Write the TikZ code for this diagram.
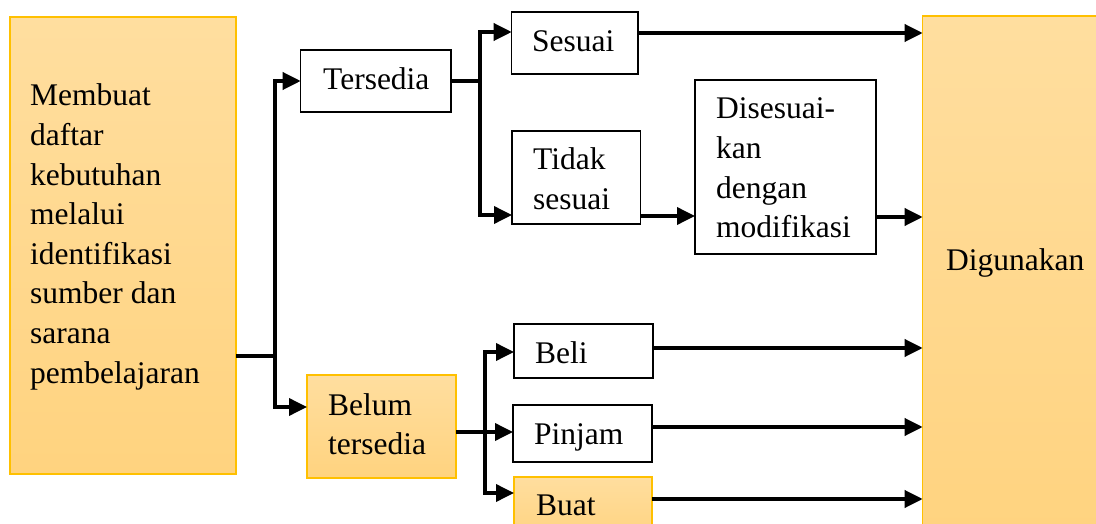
\documentclass[tikz,border=0pt]{standalone}
\usepackage{fontspec}
\setmainfont{Liberation Serif}
\usetikzlibrary{arrows.meta}
\definecolor{gold}{HTML}{FFC000}
\definecolor{goldtop}{HTML}{FFDE9F}
\definecolor{goldbot}{HTML}{FFD37F}
\newcommand{\mlines}[1]{\begin{tabular}[t]{@{}l@{}}#1\end{tabular}}
\begin{document}
\begin{tikzpicture}[x=1pt,y=-1pt,
  box/.style={draw=black, line width=1.3pt, fill=white, inner sep=0pt, outer sep=0pt, anchor=north west},
  gbox/.style={draw=gold, line width=1.5pt, top color=goldtop, bottom color=goldbot, inner sep=0pt, outer sep=0pt, anchor=north west},
  txt/.style={anchor=base west, inner sep=0pt, font=\fontsize{31.5}{39.6}\selectfont},
  line/.style={line width=3.6pt},
  arr/.style={line width=3.6pt, -{Triangle[length=18pt 0,width=17pt 0]}}]
\useasboundingbox (0,0) rectangle (1096,524);
\clip (0,0) rectangle (1096,524);
% boxes
\node[gbox, minimum width=226pt, minimum height=457pt] (src) at (10,17) {};
\node[box, minimum width=150.3pt, minimum height=62pt] (tersedia) at (300.7,50) {};
\node[box, minimum width=126.3pt, minimum height=62pt] (sesuai) at (511.7,12) {};
\node[box, minimum width=128.7pt, minimum height=93pt] (tidak) at (512,131) {};
\node[box, minimum width=181pt, minimum height=174pt] (dis) at (695,80) {};
\node[gbox, minimum width=185pt, minimum height=525pt] (dig) at (922.7,16) {};
\node[gbox, minimum width=149pt, minimum height=103pt] (belum) at (307,375) {};
\node[box, minimum width=139pt, minimum height=54pt] (beli) at (514,324) {};
\node[box, minimum width=139pt, minimum height=57pt] (pinjam) at (513,405) {};
\node[gbox, minimum width=138pt, minimum height=63pt] (buat) at (514,477) {};
% texts
\node[txt] (t-src) at (30,106) {\mlines{Membuat\\daftar\\kebutuhan\\melalui\\identifikasi\\sumber dan\\sarana\\pembelajaran}};
\node[txt] (t-tersedia) at (323,90) {Tersedia};
\node[txt] (t-sesuai) at (532,52) {Sesuai};
\node[txt] (t-tidak) at (533,170) {\mlines{Tidak\\sesuai}};
\node[txt] (t-dis) at (716,119) {\mlines{Disesuai-\\kan\\dengan\\modifikasi}};
\node[txt] (t-dig) at (946,270) {Digunakan};
\node[txt] (t-belum) at (328,415) {\mlines{Belum\\tersedia}};
\node[txt] (t-beli) at (535,363) {Beli};
\node[txt] (t-pinjam) at (534,444) {Pinjam};
\node[txt] (t-buat) at (536,515) {Buat};
% junctions
\coordinate (j1) at (275,356);
\coordinate (j2) at (480,81);
\coordinate (j3) at (485,432);
% connectors
\draw[line] (src.east |- j1) -- (j1);
\draw[arr] (j1) |- (tersedia.west);
\draw[arr] (j1) |- ([yshift=19.5pt]belum.west);
\draw[line] (tersedia.east) -- (j2);
\draw[arr] (j2) |- ([yshift=11pt]sesuai.west);
\draw[arr] (j2) |- ([yshift=-37.5pt]tidak.west);
\coordinate (a3) at ([yshift=-38.5pt]tidak.east);
\draw[arr] (a3) -- (a3 -| dis.west);
\coordinate (a4) at ([yshift=-50pt]dis.east);
\draw[arr] (a4) -- (a4 -| dig.west);
\coordinate (a5) at ([yshift=10pt]sesuai.east);
\draw[arr] (a5) -- (a5 -| dig.west);
\coordinate (b0) at ([yshift=-5.5pt]belum.east);
\draw[arr] (b0) -- (b0 -| pinjam.west);
\draw[arr] (j3) |- ([yshift=-1pt]beli.west);
\draw[arr] (j3) |- ([yshift=15.5pt]buat.west);
\coordinate (a6) at ([yshift=3pt]beli.east);
\draw[arr] (a6) -- (a6 -| dig.west);
\coordinate (a7) at ([yshift=6.5pt]pinjam.east);
\draw[arr] (a7) -- (a7 -| dig.west);
\coordinate (a8) at ([yshift=9.5pt]buat.east);
\draw[arr] (a8) -- (a8 -| dig.west);
\end{tikzpicture}
\end{document}
